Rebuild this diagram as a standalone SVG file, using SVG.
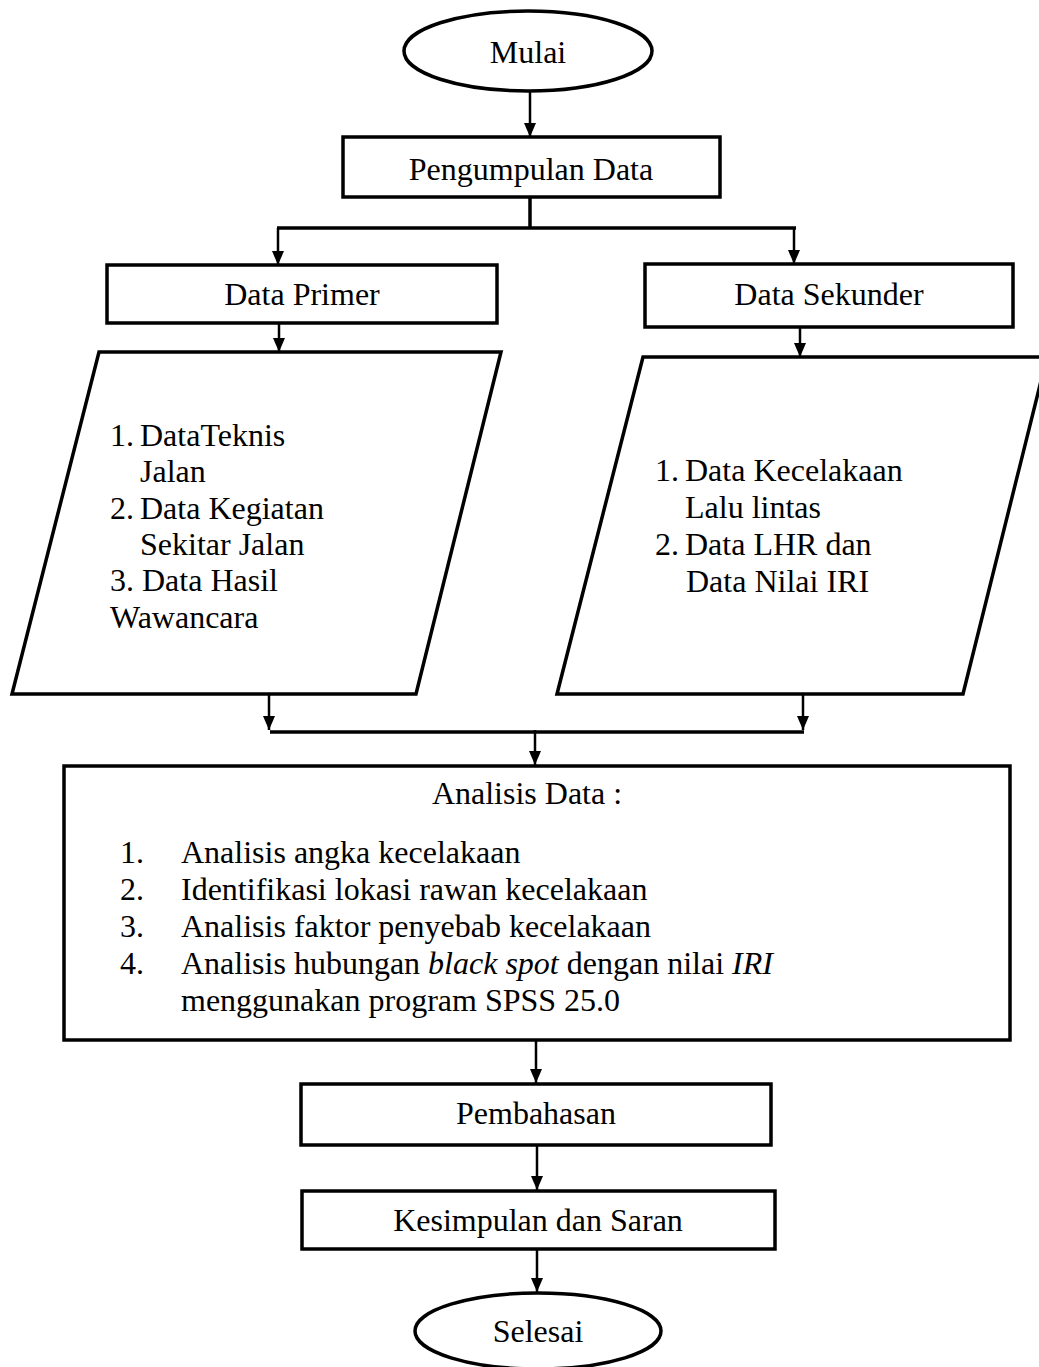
<svg xmlns="http://www.w3.org/2000/svg" width="1039" height="1367" viewBox="0 0 1039 1367">
<style>
text{font-family:"Liberation Serif","Times New Roman","DejaVu Serif",serif;font-size:32px;fill:#000}
.c{text-anchor:middle}
.sh{fill:#fff;stroke:#000;stroke-width:3.5}
.ln{fill:none;stroke:#000;stroke-width:2.5}
.bl{fill:none;stroke:#000;stroke-width:3.5}
</style>
<defs>
<marker id="ah" viewBox="0 0 14 12" refX="14" refY="6" markerWidth="14" markerHeight="12" markerUnits="userSpaceOnUse" orient="auto">
<path d="M0,0 L14,6 L0,12 Z" fill="#000"/>
</marker>
</defs>
<rect width="1039" height="1367" fill="#fff"/>
<g id="connectors">
<path class="ln" d="M530,92 V137" marker-end="url(#ah)"/>
<path class="bl" d="M530,197 V228"/>
<path class="bl" d="M277,228 H796"/>
<path class="ln" d="M278,228 V265" marker-end="url(#ah)"/>
<path class="ln" d="M794,228 V264" marker-end="url(#ah)"/>
<path class="ln" d="M279,323 V352" marker-end="url(#ah)"/>
<path class="ln" d="M800,327 V357" marker-end="url(#ah)"/>
<path class="ln" d="M269,695 V730" marker-end="url(#ah)"/>
<path class="ln" d="M803,695 V730" marker-end="url(#ah)"/>
<path class="bl" d="M270,732 H804"/>
<path class="ln" d="M535,730 V765" marker-end="url(#ah)"/>
<path class="ln" d="M536,1040 V1083" marker-end="url(#ah)"/>
<path class="ln" d="M537,1145 V1190" marker-end="url(#ah)"/>
<path class="ln" d="M537,1249 V1292" marker-end="url(#ah)"/>
</g>
<g id="mulai">
<ellipse class="sh" cx="528" cy="51" rx="124" ry="40"/>
<text class="c" x="528" y="63">Mulai</text>
</g>
<g id="pengumpulan">
<rect class="sh" x="343" y="137" width="377" height="60"/>
<text class="c" x="531" y="180">Pengumpulan Data</text>
</g>
<g id="primer">
<rect class="sh" x="107" y="265" width="390" height="58"/>
<text class="c" x="302" y="305">Data Primer</text>
</g>
<g id="sekunder">
<rect class="sh" x="645" y="264" width="368" height="63"/>
<text class="c" x="829" y="305">Data Sekunder</text>
</g>
<g id="primer-data">
<polygon class="sh" points="99,352 501,352 416,694 12,694"/>
<text x="110" y="446">1.</text>
<text x="140" y="446">DataTeknis</text>
<text x="140" y="482">Jalan</text>
<text x="110" y="519">2.</text>
<text x="140" y="519">Data Kegiatan</text>
<text x="140" y="555">Sekitar Jalan</text>
<text x="110" y="591">3. Data Hasil</text>
<text x="110" y="628">Wawancara</text>
</g>
<g id="sekunder-data">
<polygon class="sh" points="643,357 1047,357 963,694 557,694"/>
<text x="655" y="481">1.</text>
<text x="685" y="481">Data Kecelakaan</text>
<text x="685" y="518">Lalu lintas</text>
<text x="655" y="555">2.</text>
<text x="685" y="555">Data LHR dan</text>
<text x="686" y="592">Data Nilai IRI</text>
</g>
<g id="analisis">
<rect class="sh" x="64" y="766" width="946" height="274"/>
<text class="c" x="527" y="804">Analisis Data :</text>
<text x="120" y="863">1.</text>
<text x="181" y="863">Analisis angka kecelakaan</text>
<text x="120" y="900">2.</text>
<text x="181" y="900">Identifikasi lokasi rawan kecelakaan</text>
<text x="120" y="937">3.</text>
<text x="181" y="937">Analisis faktor penyebab kecelakaan</text>
<text x="120" y="974">4.</text>
<text x="181" y="974">Analisis hubungan <tspan font-style="italic">black spot</tspan> dengan nilai <tspan font-style="italic">IRI</tspan></text>
<text x="181" y="1011">menggunakan program SPSS 25.0</text>
</g>
<g id="pembahasan">
<rect class="sh" x="301" y="1084" width="470" height="61"/>
<text class="c" x="536" y="1124">Pembahasan</text>
</g>
<g id="kesimpulan">
<rect class="sh" x="302" y="1191" width="473" height="58"/>
<text class="c" x="538" y="1231">Kesimpulan dan Saran</text>
</g>
<g id="selesai">
<ellipse class="sh" cx="538" cy="1331" rx="123" ry="38"/>
<text class="c" x="538" y="1342">Selesai</text>
</g>
</svg>
